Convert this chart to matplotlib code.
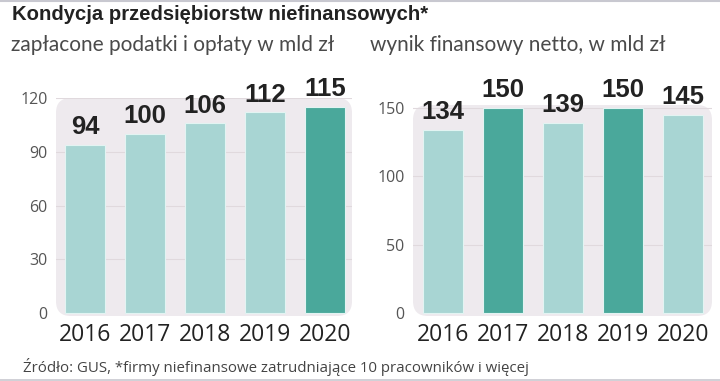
import matplotlib.pyplot as plt
from matplotlib.patches import FancyBboxPatch
from matplotlib.lines import Line2D

years = ['2016', '2017', '2018', '2019', '2020']
taxes = [94, 100, 106, 112, 115]
profit = [134, 150, 139, 150, 145]
taxes_dark = [False, False, False, False, True]
profit_dark = [False, True, False, True, False]

title = 'Kondycja przedsiębiorstw niefinansowych*'
sub_left = 'zapłacone podatki i opłaty w mld zł'
sub_right = 'wynik finansowy netto, w mld zł'
source = 'Źródło: GUS, *firmy niefinansowe zatrudniające 10 pracowników i więcej'

LIGHT = '#a8d5d3'
DARK = '#4aa89b'
BOX = '#eeeaee'
GRID = '#e0d9dd'
TXT = '#222222'
BOLD = ['Liberation Sans', 'DejaVu Sans']

W, H = 720, 381
fig = plt.figure(figsize=(W / 100, H / 100), dpi=100)
fig.patch.set_facecolor('white')


def px_axes(x0, y0, x1, y1):
    # pixel box (top-left origin) -> figure fraction
    return fig.add_axes([x0 / W, 1 - y1 / H, (x1 - x0) / W, (y1 - y0) / H])


def panel(ax, vals, dark, ylim, ticks, xlim):
    ax.set_xlim(*xlim)
    ax.set_ylim(*ylim)
    ax.patch.set_visible(False)
    bw, bh = ax.bbox.width, ax.bbox.height
    box = FancyBboxPatch((0, 0), 1, 1, boxstyle='round,pad=0,rounding_size=0.05',
                         mutation_aspect=bw / bh, transform=ax.transAxes,
                         facecolor=BOX, edgecolor='none', zorder=0, clip_on=False)
    ax.add_patch(box)
    for t in ticks[1:]:
        ax.axhline(t, color=GRID, lw=0.8, zorder=1)
    x = list(range(len(vals)))
    cols = [DARK if d else LIGHT for d in dark]
    ax.bar(x, vals, width=0.667, color=cols, edgecolor='#e2f4f2', linewidth=0.8, zorder=2)
    for xi, v in zip(x, vals):
        ax.annotate(str(v), (xi, v), xytext=(0, 4), textcoords='offset points',
                    ha='center', va='bottom', fontsize=18.5, fontweight='bold',
                    family=BOLD, color=TXT)
    ax.set_yticks(ticks)
    ax.set_yticklabels([str(t) for t in ticks])
    ax.set_xticks(x)
    ax.set_xticklabels(years)
    ax.tick_params(axis='y', length=0, pad=6, labelsize=11.5, labelcolor='#555555')
    ax.tick_params(axis='x', length=0, pad=5, labelsize=16.5, labelcolor=TXT)
    for lab in ax.get_xticklabels():
        lab.set_family('Open Sans')
    for lab in ax.get_yticklabels():
        lab.set_family('Open Sans')
    for s in ax.spines.values():
        s.set_visible(False)


ax1 = px_axes(56, 98, 352, 316)
panel(ax1, taxes, taxes_dark, (-1.5, 119), [0, 30, 60, 90, 120], (-0.483, 4.45))

ax2 = px_axes(413, 105, 712, 316)
panel(ax2, profit, profit_dark, (-2, 152), [0, 50, 100, 150], (-0.5, 4.48))

fig.text(12 / W, 1 - 15 / H, title, fontsize=14.6, fontweight='bold', family=BOLD,
         color=TXT, va='center', ha='left')
fig.text(11 / W, 1 - 45 / H, sub_left, fontsize=15, family='Lato', fontweight='normal',
         color='#4a4a4a', va='center', ha='left')
fig.text(370 / W, 1 - 45 / H, sub_right, fontsize=15, family='Lato', fontweight='normal',
         color='#4a4a4a', va='center', ha='left')
fig.text(23 / W, 1 - 367 / H, source, fontsize=10.8, family='Open Sans',
         color='#444444', va='center', ha='left')

fig.add_artist(Line2D([0, 1], [1 - 0.8 / H, 1 - 0.8 / H], transform=fig.transFigure,
                      color='#c8c8d0', lw=1.5))
fig.add_artist(Line2D([0, 1], [1 - 379.5 / H, 1 - 379.5 / H], transform=fig.transFigure,
                      color='#c8c8d0', lw=1.2))

fig.savefig('out.png', dpi=100, facecolor='white')
